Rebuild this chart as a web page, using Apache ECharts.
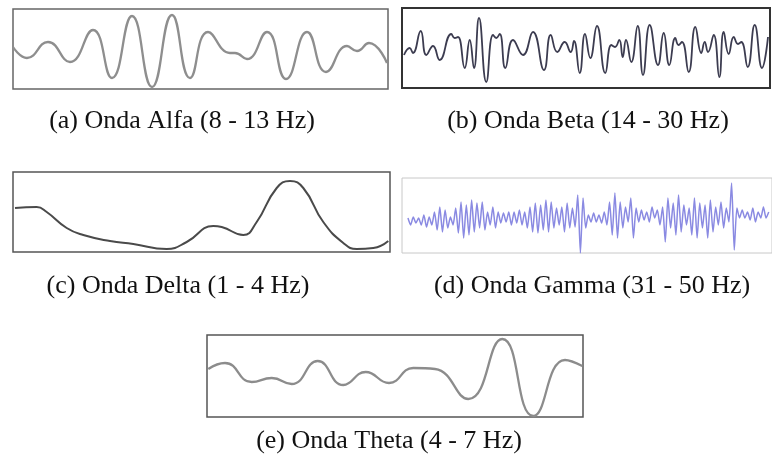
<!DOCTYPE html>
<html>
<head>
<meta charset="utf-8">
<script src="https://cdn.jsdelivr.net/npm/echarts@6/dist/echarts.min.js"></script>
<style>html,body{margin:0;padding:0;background:#fff}#c{width:772px;height:464px}</style>
</head>
<body>
<div id="c"></div>
<script>
// Captions
const captions = [
  "(a) Onda Alfa (8 - 13 Hz)",
  "(b) Onda Beta (14 - 30 Hz)",
  "(c) Onda Delta (1 - 4 Hz)",
  "(d) Onda Gamma (31 - 50 Hz)",
  "(e) Onda Theta (4 - 7 Hz)"
];

// Alfa wave: [time, amplitude] (arbitrary units)
const alfa = [
  [0,42],[14,31],[35,47],[57,27],[80,59],[99,11],[119,73],[139,2],[159,74],
  [177,11],[195,57],[217,36],[222,36],[234,30],[254,57],[273,10],[294,57],
  [313,17],[334,43],[344,38],[356,46],[374,26]
];

// Beta wave
const beta = [
  [2,33],[7.7,40],[11,35],[18.7,57],[24.3,33],[31,42],[37.7,28],[49.3,54],[52.7,50],
  [56,51],[62.7,20],[67.7,48],[72,20],[77,70],[84.3,6],[91,53],[94.3,50],[97.7,54],
  [103.3,20],[111,48],[121,33],[131,56],[142,18],[148.7,53],[155.3,36],[162.7,46],
  [168.7,36],[172,47],[177.7,15],[183,54],[188.3,30],[195,62],[203.3,15],[209.3,43],
  [213,41],[217.3,48],[220.7,31],[224,48],[229.3,26],[235.7,62],[241,13],[247.7,63],
  [256,23],[261.7,55],[267.3,23],[273.3,50],[276.5,43],[280,46],[286.7,16],[293.3,61],
  [299.3,35],[302.7,46],[306,36],[311.7,53],[317.3,11],[321.7,56],[326.7,34],[331.7,51],
  [336,44],[339.3,46],[345.7,21],[352.7,63],[360,20],[366,51]
];

// Delta wave
const delta = [
  [2,44],[23.7,45],[33.7,40],[53.7,24],[70.3,17],[97,11],[120.3,8],[153.7,3],
  [173.7,10],[200.3,26],[208.7,25],[230.3,17],[243.7,30],[263.7,64],[277,71],
  [290.3,64],[310.3,30],[330.3,9],[343.7,3],[360.3,4],[375.3,11]
];

// Gamma wave: uniformly sampled amplitudes
const gammaStart = 6;
const gammaStep = 2.667;
const gamma = [
  35,28,36,30,35,28,38,26,36,28,
  41,23,46,21,43,25,36,28,45,20,
  51,15,48,18,53,21,50,25,51,23,
  41,28,46,25,41,30,40,31,41,28,
  41,30,43,28,41,25,46,21,50,20,
  48,23,53,21,51,25,45,28,46,21,
  50,25,45,26,58,0,55,25,
  38,31,40,31,38,30,41,28,51,18,
  60,15,51,25,46,31,55,15,45,31,
  43,33,41,31,46,35,43,28,46,11,
  55,25,50,18,58,21,48,28,45,18,
  55,15,50,25,48,15,53,21,46,28,
  51,25,45,31,70,3,45,35,43,35,
  41,33,45,31,41,35,46,35,41
];

// Theta wave
const theta = [
  [1.3,48],[18,54],[44.7,35],[64.7,39],[84.7,33],[110.7,56],[136.3,32],[158.7,45],
  [182,34],[206.3,49],[228,48],[261.3,18],[295.3,78],[326.3,1],[358,57],[375.3,51]
];

const gammaData = gamma.map((v, i) => [gammaStart + i * gammaStep, v]);

const panels = [
  {grid:{left:13, top:9, width:375, height:80}, xMax:375, yMax:80, data:alfa,
   color:'#8e8e8e', w:2.3, smooth:0.5, border:'#666', bw:1.5, cap:[182,121]},
  {grid:{left:402, top:8, width:368, height:80}, xMax:368, yMax:80, data:beta,
   color:'#3c3c50', w:1.8, smooth:0.5, border:'#333', bw:2, cap:[588,121]},
  {grid:{left:13, top:172, width:377, height:80}, xMax:377, yMax:80, data:delta,
   color:'#4a4a4a', w:2, smooth:0.5, border:'#555', bw:1.5, cap:[178,286]},
  {grid:{left:402, top:178, width:372, height:75}, xMax:372, yMax:75, data:gammaData,
   color:'#8a8ae2', w:1.5, smooth:0.2, border:'#c8c8c8', bw:1, cap:[592,286]},
  {grid:{left:207, top:335, width:376, height:82}, xMax:376, yMax:82, data:theta,
   color:'#8c8c8c', w:2.3, smooth:0.5, border:'#555', bw:1.5, cap:[389,441]}
];

const chart = echarts.init(document.getElementById('c'), null, {renderer:'canvas'});
const hidden = {axisLine:{show:false}, axisTick:{show:false}, axisLabel:{show:false}, splitLine:{show:false}};
chart.setOption({
  animation:false,
  backgroundColor:'#fff',
  grid: panels.map(p => Object.assign({show:true, borderColor:p.border, borderWidth:p.bw, backgroundColor:'transparent'}, p.grid)),
  xAxis: panels.map((p,i) => Object.assign({type:'value', gridIndex:i, min:0, max:p.xMax}, hidden)),
  yAxis: panels.map((p,i) => Object.assign({type:'value', gridIndex:i, min:0, max:p.yMax}, hidden)),
  series: panels.map((p,i) => ({
    type:'line', xAxisIndex:i, yAxisIndex:i, data:p.data, showSymbol:false, symbol:'none',
    smooth:p.smooth, lineStyle:{color:p.color, width:p.w}, silent:true
  })),
  graphic: panels.map((p,i) => ({
    type:'text', x:p.cap[0], y:p.cap[1],
    style:{text:captions[i], font:'26px "Liberation Serif"', fill:'#111', align:'center', verticalAlign:'middle'}
  }))
});
</script>
</body>
</html>
